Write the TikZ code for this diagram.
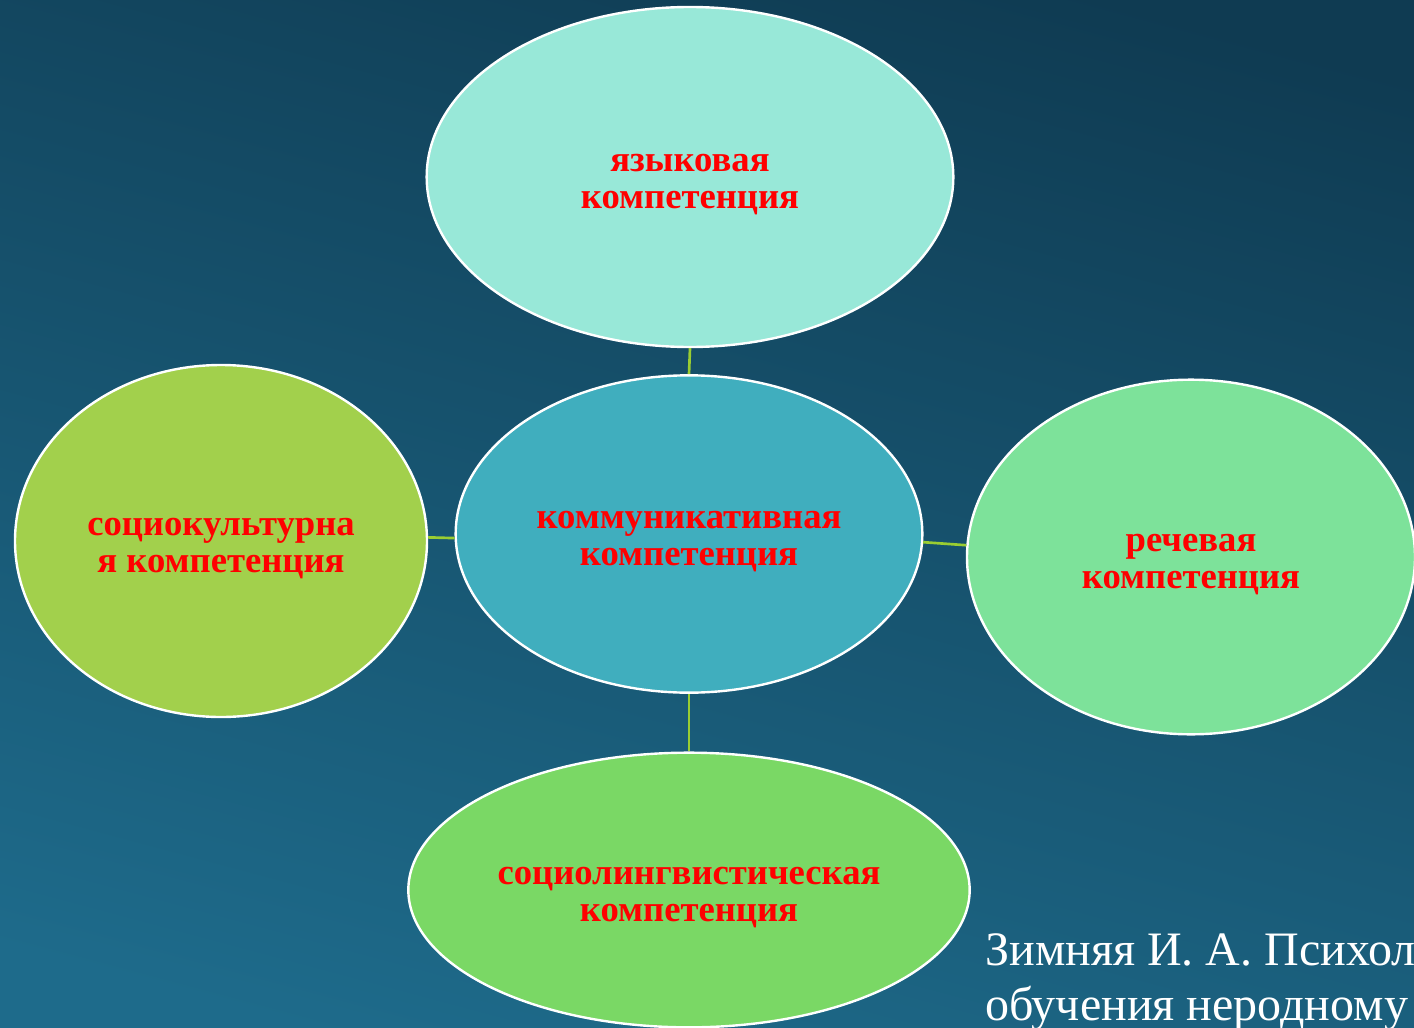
\documentclass[tikz,border=0pt]{standalone}
\usepackage{fontspec}
\setmainfont{Liberation Serif}
\usetikzlibrary{shapes.geometric}
\definecolor{bgtop}{HTML}{0F3B52}
\definecolor{bgbot}{HTML}{1E6B8B}
\definecolor{ctop}{HTML}{98E8D8}
\definecolor{ccen}{HTML}{40AEBE}
\definecolor{cleft}{HTML}{A2D04C}
\definecolor{cright}{HTML}{7DE29A}
\definecolor{cbot}{HTML}{7AD865}
\definecolor{link}{HTML}{9ACD32}
\definecolor{txtred}{HTML}{FF0000}
\tikzset{
  oval/.style={ellipse, draw=white, line width=1.8pt, inner sep=0pt},
  lbl/.style={inner sep=0pt, font=\bfseries\fontsize{27.5}{27.8}\selectfont, text=txtred, align=center},
  linkline/.style={draw=link, line width=2pt},
  citetext/.style={anchor=base west, inner sep=0pt, text=white, font=\fontsize{36}{41}\selectfont},
}
\begin{document}
\begin{tikzpicture}[x=0.75pt,y=-0.75pt]
\useasboundingbox (0,0) rectangle (1414,1028);
\clip (0,0) rectangle (1414,1028);
\shade[top color=bgtop, bottom color=bgbot, shading angle=-15] (-50,-50) rectangle (1464,1078);
% ellipses
\node[oval, fill=ctop, minimum width=395pt, minimum height=255pt] (top) at (690,177) {};
\node[oval, fill=ccen, minimum width=350pt, minimum height=238pt] (cen) at (689,534) {};
\node[oval, fill=cleft, minimum width=309pt, minimum height=264pt] (left) at (221,541) {};
\node[oval, fill=cright, minimum width=336pt, minimum height=266pt] (right) at (1191,557) {};
\node[oval, fill=cbot, minimum width=421pt, minimum height=206pt] (bot) at (689,890) {};
% labels
\node[lbl] (topt) at ([yshift=-5.5pt]top.center) {языковая\\компетенция};
\node[lbl] (cent) at ([yshift=-5.5pt]cen.center) {коммуникативная\\компетенция};
\node[lbl] (leftt) at ([yshift=-5.5pt]left.center) {социокультурна\\я компетенция};
\node[lbl] (rightt) at ([yshift=-5.5pt]right.center) {речевая\\компетенция};
\node[lbl] (bott) at ([yshift=-5.5pt]bot.center) {социолингвистическая\\компетенция};
% connectors
\draw[linkline] (top.south) -- (cen.north);
\draw[linkline] (bot.north) -- (cen.south);
\draw[linkline] (left.1) -- (cen.181);
\draw[linkline] (cen.-2.7) -- (right.177.4);
% citation
\node[citetext] (cite1) at (985,965) {Зимняя И. А. Психол};
\node[citetext] (cite2) at (985,1020) {обучения неродному};
\end{tikzpicture}
\end{document}
